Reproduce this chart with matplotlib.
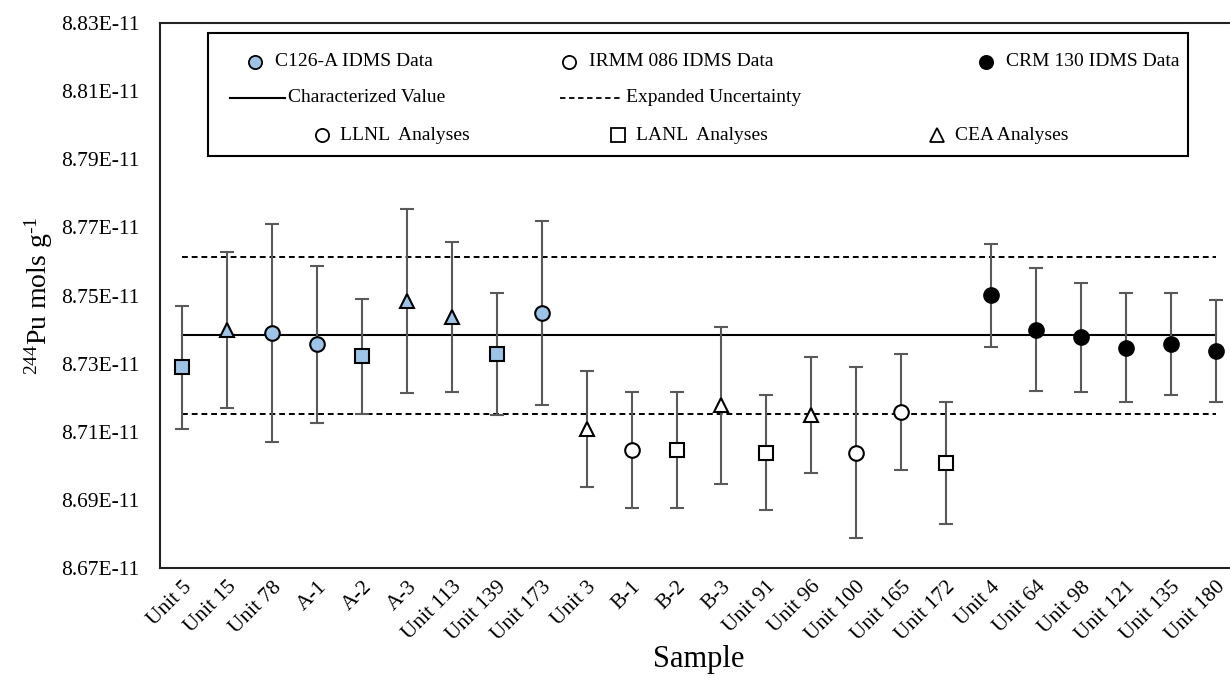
import matplotlib.pyplot as plt
import numpy as np
from matplotlib.patches import Rectangle
from matplotlib.ticker import FuncFormatter

plt.rcParams['font.family'] = ['Liberation Serif', 'DejaVu Serif']
plt.rcParams['mathtext.fontset'] = 'custom'
plt.rcParams['mathtext.rm'] = 'Liberation Serif'
plt.rcParams['mathtext.it'] = 'Liberation Serif:italic'

# Образцы (по порядку на оси X)
samples = ['Unit 5', 'Unit 15', 'Unit 78', 'A-1', 'A-2', 'A-3', 'Unit 113', 'Unit 139', 'Unit 173',
           'Unit 3', 'B-1', 'B-2', 'B-3', 'Unit 91', 'Unit 96', 'Unit 100', 'Unit 165', 'Unit 172',
           'Unit 4', 'Unit 64', 'Unit 98', 'Unit 121', 'Unit 135', 'Unit 180']

# Группа данных IDMS для каждого образца
group = ['C126'] * 9 + ['IRMM'] * 9 + ['CRM'] * 6
# Лаборатория (форма маркера)
lab = ['LANL', 'CEA', 'LLNL', 'LLNL', 'LANL', 'CEA', 'CEA', 'LANL', 'LLNL',
       'CEA', 'LLNL', 'LANL', 'CEA', 'LANL', 'CEA', 'LLNL', 'LLNL', 'LANL',
       'CRM', 'CRM', 'CRM', 'CRM', 'CRM', 'CRM']

# Значения, 1E-11 моль/г
values = [8.7289, 8.7399, 8.7389, 8.7357, 8.7321, 8.7485, 8.7436, 8.7328, 8.7449,
          8.7108, 8.7047, 8.7047, 8.7178, 8.7039, 8.7149, 8.7039, 8.7157, 8.7008,
          8.7500, 8.7400, 8.7377, 8.7346, 8.7358, 8.7338]
errors = [0.018, 0.023, 0.032, 0.023, 0.017, 0.027, 0.022, 0.018, 0.027,
          0.017, 0.017, 0.017, 0.023, 0.017, 0.017, 0.025, 0.017, 0.018,
          0.015, 0.018, 0.016, 0.016, 0.015, 0.015]

char_value = 8.7383
expanded_unc = 0.0231

scale = 1e-11
x = np.arange(len(samples))
y = np.array(values) * scale
yerr = np.array(errors) * scale

fill_colors = {'C126': '#9dc3e6', 'IRMM': 'white', 'CRM': 'black'}
markers = {'LLNL': 'o', 'LANL': 's', 'CEA': '^', 'CRM': 'o'}
msizes = {'LLNL': 10.5, 'LANL': 10, 'CEA': 10, 'CRM': 10.5}

fig = plt.figure(figsize=(12.3, 6.89), dpi=100)
ax = fig.add_axes([160 / 1230, 121 / 689, 1078 / 1230, 545 / 689])

# Характеризованное значение и расширенная неопределенность
ax.plot([x[0], x[-1]], [char_value * scale] * 2, color='black', lw=1.5, zorder=1)
for s in (1, -1):
    ax.plot([x[0], x[-1]], [(char_value + s * expanded_unc) * scale] * 2,
            color='black', lw=1.4, linestyle=(0, (3, 2)), zorder=1)

# Планки погрешностей
ax.errorbar(x, y, yerr=yerr, fmt='none', ecolor='#595959', elinewidth=1.5,
            capsize=5, capthick=1.5, zorder=2)

# Точки
for i in range(len(samples)):
    ax.plot(x[i], y[i], marker=markers[lab[i]], markersize=msizes[lab[i]],
            markerfacecolor=fill_colors[group[i]], markeredgecolor='black',
            markeredgewidth=1.5, linestyle='none', zorder=3)

ax.set_xlim(-0.5, len(samples) - 0.5)
ax.set_ylim(8.67e-11, 8.83e-11)
ax.set_yticks(np.arange(8.67, 8.835, 0.02) * scale)
ax.yaxis.set_major_formatter(FuncFormatter(lambda v, p: '{:.2E}'.format(v)))
ax.set_xticks(x)
ax.set_xticklabels(samples, rotation=45, ha='right', rotation_mode='anchor')
ax.tick_params(axis='y', length=0, pad=15, labelsize=15.5)
ax.tick_params(axis='x', length=0, pad=7, labelsize=15.5)

for side in ('left', 'bottom', 'top', 'right'):
    ax.spines[side].set_linewidth(1.5)
    ax.spines[side].set_color('#222222')

ax.set_xlabel('Sample', fontsize=22, labelpad=0)
ax.set_ylabel(r'$^{244}$Pu mols g$^{\text{-1}}$', fontsize=20, labelpad=4)

# ======== Легенда (вручную) ========
def fx(px):
    return (px - 160) / 1078

def fy(py):
    return (568 - py) / 545

tr = ax.transAxes
ax.add_patch(Rectangle((fx(208), fy(156)), fx(1188) - fx(208), fy(33) - fy(156),
                       transform=tr, facecolor='white', edgecolor='black', lw=1.5, zorder=5))

row1 = [(255, 'C126-A IDMS Data', fill_colors['C126']),
        (569, 'IRMM 086 IDMS Data', fill_colors['IRMM']),
        (986, 'CRM 130 IDMS Data', fill_colors['CRM'])]
for px, label, fc in row1:
    ax.plot(fx(px), fy(62), marker='o', markersize=9.5, markerfacecolor=fc,
            markeredgecolor='black', markeredgewidth=1.3, transform=tr, zorder=6)
    ax.text(fx(px + 20), fy(62), label, transform=tr, fontsize=14, va='center', zorder=6)

ax.plot([fx(230), fx(285)], [fy(98)] * 2, color='black', lw=1.5, transform=tr, zorder=6)
ax.text(fx(288), fy(98), 'Characterized Value', transform=tr, fontsize=14, va='center', zorder=6)
ax.plot([fx(560), fx(623)], [fy(98)] * 2, color='black', lw=1.3, linestyle=(0, (3, 2)),
        transform=tr, zorder=6)
ax.text(fx(626), fy(98), 'Expanded Uncertainty', transform=tr, fontsize=14, va='center', zorder=6)

row3 = [(322, 'LLNL  Analyses', 'o'), (618, 'LANL  Analyses', 's'), (937, 'CEA Analyses', '^')]
for px, label, m in row3:
    ax.plot(fx(px), fy(135), marker=m, markersize=9.5, markerfacecolor='white',
            markeredgecolor='black', markeredgewidth=1.3, transform=tr, zorder=6)
    ax.text(fx(px + 18), fy(135), label, transform=tr, fontsize=14, va='center', zorder=6)

fig.savefig('out.png', dpi=100)
